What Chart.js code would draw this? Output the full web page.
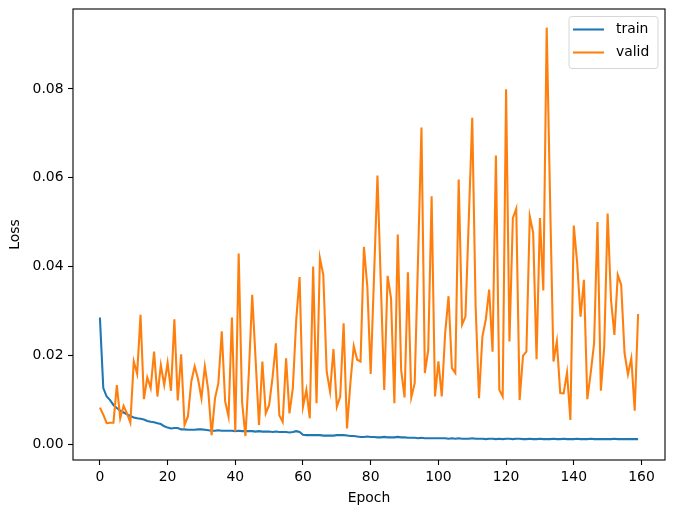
<!DOCTYPE html>
<html><head><meta charset="utf-8">
<script src="https://cdn.jsdelivr.net/npm/chart.js@4/dist/chart.umd.min.js"></script>
<style>html,body{margin:0;padding:0;background:#fff}canvas{display:block}</style>
</head><body>
<canvas id="c" width="685" height="511"></canvas>
<script>
const epochs = [
0,1,2,3,4,5,6,7,8,9,10,11,12,13,14,15,16,17,18,19,
20,21,22,23,24,25,26,27,28,29,30,31,32,33,34,35,36,37,38,39,
40,41,42,43,44,45,46,47,48,49,50,51,52,53,54,55,56,57,58,59,
60,61,62,63,64,65,66,67,68,69,70,71,72,73,74,75,76,77,78,79,
80,81,82,83,84,85,86,87,88,89,90,91,92,93,94,95,96,97,98,99,
100,101,102,103,104,105,106,107,108,109,110,111,112,113,114,115,116,117,118,119,
120,121,122,123,124,125,126,127,128,129,130,131,132,133,134,135,136,137,138,139,
140,141,142,143,144,145,146,147,148,149,150,151,152,153,154,155,156,157,158,159];

const trainLoss = [
0.0285,0.0126,0.0107,0.0099,0.0088,0.0081,0.0075,0.0071,0.0067,0.0063,
0.0060,0.0058,0.0057,0.0055,0.0052,0.0050,0.0049,0.0047,0.0045,0.0040,
0.0037,0.0035,0.0036,0.0036,0.0033,0.0033,0.0032,0.0032,0.0032,0.0033,
0.0033,0.0032,0.0031,0.0030,0.0030,0.0031,0.0030,0.0030,0.0030,0.0030,
0.0029,0.0030,0.0029,0.0029,0.0029,0.0029,0.0028,0.0029,0.0028,0.0028,
0.0028,0.0027,0.0028,0.0027,0.0027,0.0027,0.0026,0.0027,0.0029,0.0027,
0.0021,0.0020,0.0020,0.0020,0.0020,0.0020,0.0019,0.0019,0.0019,0.0019,
0.0020,0.0020,0.0020,0.0019,0.0018,0.0018,0.0017,0.0016,0.0016,0.0017,
0.0016,0.0016,0.0015,0.0015,0.0016,0.0015,0.0015,0.0015,0.0016,0.0015,
0.0015,0.0014,0.0014,0.0014,0.0013,0.0014,0.0013,0.0013,0.0013,0.0013,
0.0013,0.0013,0.0013,0.0012,0.0013,0.0012,0.0013,0.0012,0.0012,0.0012,
0.0013,0.0012,0.0012,0.0012,0.0011,0.0012,0.0012,0.0011,0.0012,0.0011,
0.0012,0.0012,0.0011,0.0012,0.0012,0.0011,0.0011,0.0012,0.0011,0.0011,
0.0012,0.0011,0.0011,0.0011,0.0012,0.0011,0.0011,0.0012,0.0011,0.0011,
0.0011,0.0012,0.0011,0.0011,0.0011,0.0012,0.0011,0.0011,0.0011,0.0011,
0.0011,0.0011,0.0012,0.0011,0.0011,0.0011,0.0011,0.0011,0.0011,0.0011];

const validLoss = [
0.0082,0.0066,0.0047,0.0048,0.0048,0.0133,0.0058,0.0086,0.0069,0.0048,
0.0186,0.0158,0.0291,0.0101,0.0150,0.0126,0.0208,0.0107,0.0178,0.0133,
0.0183,0.0120,0.0281,0.0098,0.0202,0.0043,0.0062,0.0141,0.0175,0.0146,
0.0103,0.0175,0.0122,0.0020,0.0103,0.0137,0.0254,0.0096,0.0062,0.0285,
0.0028,0.0429,0.0095,0.0018,0.0160,0.0336,0.0190,0.0043,0.0186,0.0069,
0.0088,0.0150,0.0227,0.0065,0.0050,0.0193,0.0069,0.0126,0.0280,0.0376,
0.0084,0.0122,0.0058,0.0400,0.0092,0.0419,0.0381,0.0163,0.0118,0.0214,
0.0084,0.0107,0.0272,0.0035,0.0137,0.0221,0.0190,0.0186,0.0444,0.0355,
0.0158,0.0380,0.0605,0.0360,0.0122,0.0379,0.0329,0.0092,0.0472,0.0167,
0.0105,0.0387,0.0105,0.0137,0.0420,0.0713,0.0160,0.0212,0.0558,0.0107,
0.0186,0.0107,0.0250,0.0333,0.0171,0.0160,0.0596,0.0269,0.0287,0.0510,
0.0735,0.0310,0.0103,0.0242,0.0280,0.0348,0.0208,0.0650,0.0122,0.0107,
0.0799,0.0231,0.0509,0.0530,0.0099,0.0199,0.0208,0.0513,0.0476,0.0191,
0.0509,0.0346,0.0938,0.0550,0.0186,0.0231,0.0115,0.0114,0.0161,0.0054,
0.0492,0.0408,0.0287,0.0370,0.0101,0.0160,0.0227,0.0500,0.0120,0.0220,
0.0519,0.0325,0.0246,0.0381,0.0359,0.0205,0.0157,0.0193,0.0075,0.0293];

const xTicks = [0,20,40,60,80,100,120,140,160];
const yTicks = [0.00,0.02,0.04,0.06,0.08];
const seriesNames = ['train','valid'];
const seriesColors = ['#1f77b4','#ff7f0e'];
const xTitle = 'Epoch';
const yTitle = 'Loss';

const FONT = 'DejaVu Sans';
const FS = 13.9;

const framePlugin = {
  id: 'frame',
  afterDatasetsDraw(chart) {
    const {ctx, chartArea: a} = chart;
    ctx.save();
    ctx.strokeStyle = '#000';
    ctx.lineWidth = 1.1;
    ctx.strokeRect(a.left, a.top, a.right - a.left, a.bottom - a.top);
    // legend
    const bw = 89, bh = 52;
    const bx = a.right - 7 - bw, by = a.top + 7.5;
    const r = 3;
    ctx.beginPath();
    ctx.moveTo(bx + r, by);
    ctx.lineTo(bx + bw - r, by); ctx.quadraticCurveTo(bx + bw, by, bx + bw, by + r);
    ctx.lineTo(bx + bw, by + bh - r); ctx.quadraticCurveTo(bx + bw, by + bh, bx + bw - r, by + bh);
    ctx.lineTo(bx + r, by + bh); ctx.quadraticCurveTo(bx, by + bh, bx, by + bh - r);
    ctx.lineTo(bx, by + r); ctx.quadraticCurveTo(bx, by, bx + r, by);
    ctx.closePath();
    ctx.fillStyle = 'rgba(255,255,255,0.8)';
    ctx.fill();
    ctx.strokeStyle = '#d6d6d6';
    ctx.lineWidth = 1;
    ctx.stroke();
    chart.data.datasets.forEach((ds, i) => {
      const yy = by + 13 + i * 23;
      ctx.strokeStyle = ds.borderColor;
      ctx.lineWidth = 2.08;
      ctx.beginPath();
      ctx.moveTo(bx + 4, yy);
      ctx.lineTo(bx + 35, yy);
      ctx.stroke();
      ctx.fillStyle = '#000';
      ctx.font = FS + 'px "' + FONT + '"';
      ctx.textBaseline = 'middle';
      ctx.textAlign = 'left';
      ctx.fillText(ds.label, bx + 47, yy);
    });
    ctx.restore();
  }
};

const toPts = arr => arr.map((v, i) => ({x: epochs[i], y: v}));

new Chart(document.getElementById('c'), {
  type: 'line',
  data: {
    datasets: [
      {label: seriesNames[0], data: toPts(trainLoss), borderColor: seriesColors[0], backgroundColor: seriesColors[0], borderWidth: 2.08, pointRadius: 0, tension: 0, order: 1},
      {label: seriesNames[1], data: toPts(validLoss), borderColor: seriesColors[1], backgroundColor: seriesColors[1], borderWidth: 2.08, pointRadius: 0, tension: 0, order: 0}
    ]
  },
  options: {
    responsive: false,
    animation: false,
    devicePixelRatio: 1,
    layout: {padding: {top: 9, right: 20, left: 0, bottom: 0}},
    plugins: {legend: {display: false}, tooltip: {enabled: false}},
    scales: {
      x: {
        type: 'linear', min: -7.95, max: 166.95,
        afterBuildTicks: s => { s.ticks = xTicks.map(v => ({value: v})); },
        afterFit: s => { s.height = 51; s.paddingLeft = 0; s.paddingRight = 0; },
        grid: {display: true, drawOnChartArea: false, drawTicks: true, tickLength: 5, tickColor: '#000', tickWidth: 1.1},
        border: {display: false},
        ticks: {color: '#000', padding: 4, font: {family: FONT, size: FS}, maxRotation: 0, autoSkip: false, callback: v => String(v)},
        title: {display: true, text: xTitle, color: '#000', font: {family: FONT, size: FS}, padding: {top: 0, bottom: 4}}
      },
      y: {
        type: 'linear', min: -0.0036, max: 0.0980,
        afterBuildTicks: s => { s.ticks = yTicks.map(v => ({value: v})); },
        afterFit: s => { s.width = 73; s.paddingTop = 0; s.paddingBottom = 0; },
        grid: {display: true, drawOnChartArea: false, drawTicks: true, tickLength: 5, tickColor: '#000', tickWidth: 1.1},
        border: {display: false},
        ticks: {color: '#000', padding: 4.5, font: {family: FONT, size: FS}, autoSkip: false, callback: v => v.toFixed(2)},
        title: {display: true, text: yTitle, color: '#000', font: {family: FONT, size: FS}, padding: {top: 7, bottom: 0}}
      }
    }
  },
  plugins: [framePlugin]
});
</script>
</body></html>
